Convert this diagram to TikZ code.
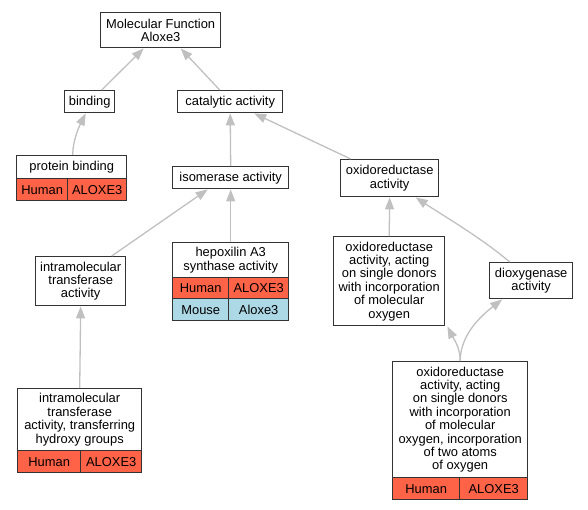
\documentclass[tikz,border=0pt]{standalone}
\usepackage{fontspec}
\setmainfont{Liberation Sans}
\usetikzlibrary{arrows.meta,calc}
\definecolor{human}{HTML}{FF6347}
\definecolor{mouse}{HTML}{ADD8E6}
\definecolor{edgegray}{HTML}{C0C0C0}
\definecolor{border}{HTML}{333333}
\tikzset{
  box/.style={draw=border, line width=1.4pt, fill=white, inner sep=0pt, align=center,
    font=\fontsize{12.9}{13.4}\selectfont, anchor=north west},
  cell/.style={box, minimum height=22pt},
  edge/.style={draw=edgegray, line width=1.3pt, -{Triangle[length=12pt,width=9pt,fill=edgegray]}},
}
\begin{document}
\begin{tikzpicture}[x=1pt,y=-1pt]
\useasboundingbox (0,0) rectangle (588,509);
% nodes
\node[box, minimum width=120pt, minimum height=35pt] (mf) at (100,12) {Molecular Function\\Aloxe3};
\node[box, minimum width=50pt, minimum height=22pt] (binding) at (64,90) {binding};
\node[box, minimum width=105pt, minimum height=22pt] (cat) at (177,90) {catalytic activity};
\node[box, minimum width=110pt, minimum height=23pt] (pb) at (16,155) {protein binding};
\node[cell, fill=human, minimum width=51pt] (pbh) at (16,178) {Human};
\node[cell, fill=human, minimum width=59pt] (pbg) at (67,178) {ALOXE3};
\node[box, minimum width=116pt, minimum height=22pt] (iso) at (172,166) {isomerase activity};
\node[box, minimum width=98pt, minimum height=37pt] (oxr) at (340,159) {oxidoreductase\\activity};
\node[box, minimum width=90pt, minimum height=49pt] (imt) at (35,256) {intramolecular\\transferase\\activity};
\node[box, minimum width=116pt, minimum height=35pt] (hep) at (172,242) {hepoxilin A3\\synthase activity};
\node[cell, fill=human, minimum width=56pt, minimum height=21pt] (heph) at (172,277) {Human};
\node[cell, fill=human, minimum width=60pt, minimum height=21pt] (hepg) at (228,277) {ALOXE3};
\node[cell, fill=mouse, minimum width=56pt] (hepm) at (172,298) {Mouse};
\node[cell, fill=mouse, minimum width=60pt] (hepmg) at (228,298) {Aloxe3};
\node[box, minimum width=111pt, minimum height=89pt] (oxa) at (333,236) {oxidoreductase\\activity, acting\\on single donors\\with incorporation\\of molecular\\oxygen};
\node[box, minimum width=83pt, minimum height=36pt] (dio) at (489,262) {dioxygenase\\activity};
\node[box, minimum width=124pt, minimum height=62pt] (hyd) at (17,388) {intramolecular\\transferase\\activity, transferring\\hydroxy groups};
\node[cell, fill=human, minimum width=63pt] (hydh) at (17,450) {Human};
\node[cell, fill=human, minimum width=61pt] (hydg) at (80,450) {ALOXE3};
\node[box, minimum width=135pt, minimum height=116pt] (bot) at (392,361) {oxidoreductase\\activity, acting\\on single donors\\with incorporation\\of molecular\\oxygen, incorporation\\of two atoms\\of oxygen};
\node[cell, fill=human, minimum width=67pt] (both) at (392,477) {Human};
\node[cell, fill=human, minimum width=68pt] (botg) at (459,477) {ALOXE3};
% edges
\draw[edge] ([xshift=12pt]binding.north) -- ([xshift=-17pt]mf.south);
\draw[edge] ([xshift=-10.5pt]cat.north) -- ([xshift=20pt]mf.south);
\draw[edge] ([xshift=1pt]pb.north) .. controls +(0,-15) and +(-6,12) .. ([xshift=-4pt]binding.south);
\draw[edge] (iso.north) -- (cat.south);
\draw[edge] ([xshift=-39pt]oxr.north) -- ([xshift=24pt]cat.south);
\draw[edge] ([xshift=31pt]imt.north) -- ([xshift=-23pt]iso.south);
\draw[edge] (hep.north) -- (iso.south);
\draw[edge] (hyd.north) -- (imt.south);
\draw[edge] (oxa.north) -- (oxr.south);
\draw[edge] ([xshift=-21.5pt]dio.north) .. controls +(-28,-24) and +(24,16) .. ([xshift=26pt]oxr.south);
\draw[edge] (bot.north) .. controls +(0,-14) and +(6,12) .. ([xshift=2pt]oxa.south east);
\draw[edge] (bot.north) .. controls +(0,-28) and +(-18,14) .. ([xshift=-29pt]dio.south);
\end{tikzpicture}
\end{document}
